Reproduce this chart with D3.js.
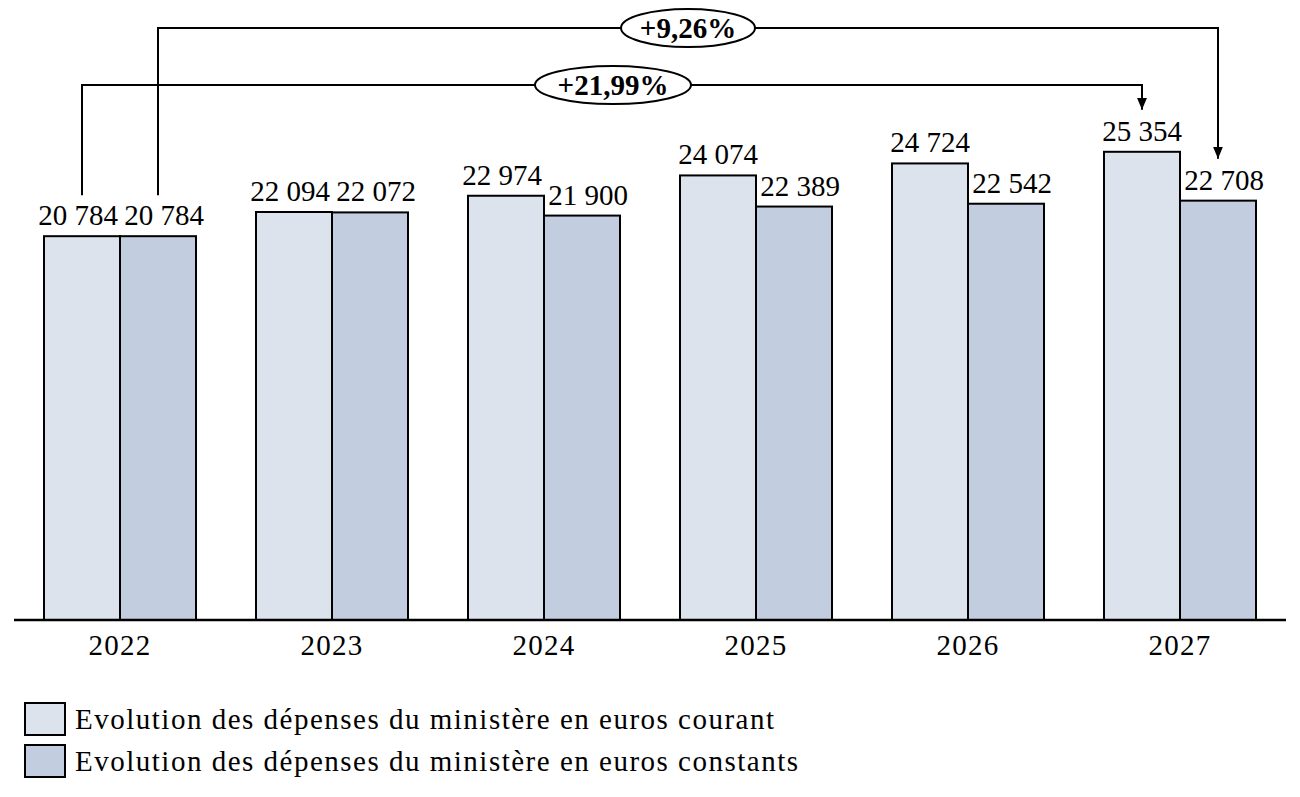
<!DOCTYPE html>
<html><head><meta charset="utf-8">
<script src="https://cdn.jsdelivr.net/npm/d3@7"></script>
<style>html,body{margin:0;padding:0;background:#fff}</style>
</head><body>
<svg id="c" width="1300" height="797"></svg>
<script>
const years = ["2022","2023","2024","2025","2026","2027"];
const seriesNames = ["Evolution des dépenses du ministère en euros courant","Evolution des dépenses du ministère en euros constants"];
const courant = [20784, 22094, 22974, 24074, 24724, 25354];
const constants = [20784, 22072, 21900, 22389, 22542, 22708];
const colors = ["#dce3ed", "#c3cde0"];
const growthLabels = ["+21,99%", "+9,26%"];

const font = "'Liberation Serif', 'Times New Roman', serif";
const svg = d3.select("#c");
const x0 = d3.scaleBand().domain(years).range([14, 1286]).padding(0);
const x1 = d3.scaleBand().domain([0,1]).range([30, x0.bandwidth()-30]).padding(0);
const y = d3.scaleLinear().domain([0, 30000]).range([620, 66]);
const fmt = v => d3.format(",")(v).replace(/,/g, "\u00A0");

const data = years.map((yr,i)=>({yr, vals:[courant[i], constants[i]]}));
const g = svg.append("g").selectAll("g").data(data).join("g")
  .attr("transform", d=>`translate(${x0(d.yr)},0)`);
g.selectAll("rect").data(d=>d.vals.map((v,k)=>({v,k}))).join("rect")
  .attr("x", d=>x1(d.k)).attr("width", x1.bandwidth())
  .attr("y", d=>y(d.v)).attr("height", d=>y(0)-y(d.v))
  .attr("fill", d=>colors[d.k]).attr("stroke","#000").attr("stroke-width",2);
// labels: nudge apart when the two labels of a group are at similar heights
g.selectAll("text").data(d=>{
    const close = Math.abs(y(d.vals[0]) - y(d.vals[1])) < 25;
    return d.vals.map((v,k)=>({v,k,dx: k===1 ? 6 : (close ? -4 : 0)}));
  }).join("text")
  .attr("x", d=>x1(d.k)+x1.bandwidth()/2 + d.dx).attr("y", d=>y(d.v)-11)
  .attr("text-anchor","middle").attr("font-family",font).attr("font-size",29)
  .text(d=>fmt(d.v));

// axis
const ax = svg.append("g").attr("transform",`translate(0,${y(0)})`)
  .call(d3.axisBottom(x0).tickSize(0));
ax.select(".domain").attr("stroke","#000").attr("stroke-width",2.5).attr("d","M14,0H1286");
ax.selectAll("text").attr("font-family",font).attr("font-size",29).attr("fill","#000")
  .attr("y",35).attr("dy",0).attr("letter-spacing","1.3px");

// arrows
const defs = svg.append("defs");
defs.append("marker").attr("id","ah").attr("viewBox","0 0 12 10").attr("refX",12).attr("refY",5)
  .attr("markerWidth",12).attr("markerHeight",10).attr("markerUnits","userSpaceOnUse").attr("orient","auto")
  .append("path").attr("d","M0,0L12,5L0,10Z").attr("fill","#000");
const cx = (i,k)=>x0(years[i])+x1(k)+x1.bandwidth()/2;
const arrows = [
  {k:0, top:85, endVal:courant[5], label:growthLabels[0], ex:613, rx:78},
  {k:1, top:28, endVal:constants[5], label:growthLabels[1], ex:688, rx:67}
];
arrows.forEach(a=>{
  const xs = cx(0,a.k), xe = cx(5,a.k);
  const ys = y(a.k===0?courant[0]:constants[0]) - 41;
  const ye = y(a.endVal) - 42;
  svg.append("path").attr("d",`M${xs},${ys}V${a.top}H${xe}V${ye}`)
    .attr("fill","none").attr("stroke","#000").attr("stroke-width",2)
    .attr("marker-end","url(#ah)");
  svg.append("ellipse").attr("cx",a.ex).attr("cy",a.top).attr("rx",a.rx).attr("ry",19)
    .attr("fill","#fff").attr("stroke","#000").attr("stroke-width",2);
  svg.append("text").attr("x",a.ex).attr("y",a.top+10).attr("text-anchor","middle")
    .attr("font-family",font).attr("font-size",29).attr("font-weight","bold").text(a.label);
});

// legend
const lg = svg.append("g").selectAll("g").data(seriesNames).join("g")
  .attr("transform",(d,i)=>`translate(25,${703+i*42})`);
lg.append("rect").attr("width",40).attr("height",32).attr("fill",(d,i)=>colors[i])
  .attr("stroke","#000").attr("stroke-width",2);
lg.append("text").attr("x",50).attr("y",26).attr("font-family",font).attr("font-size",29)
  .attr("letter-spacing","1.5px").text(d=>d);
</script>
</body></html>
